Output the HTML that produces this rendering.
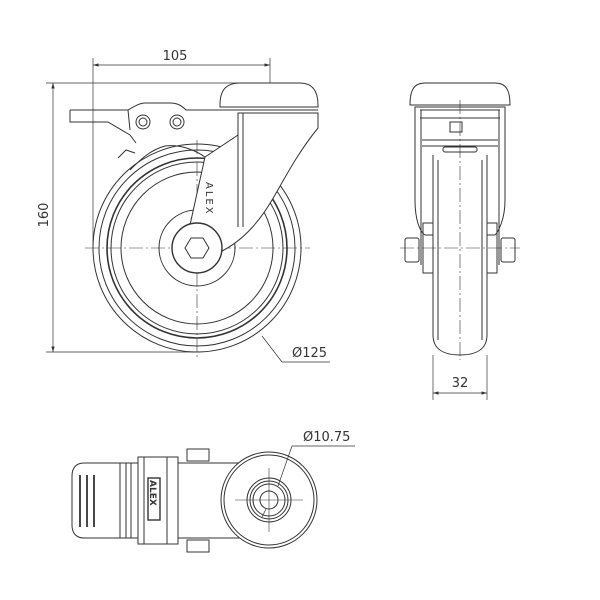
<!DOCTYPE html>
<html><head><style>body{margin:0;background:#fff}svg{display:block}text{font-family:"DejaVu Sans","Liberation Sans",sans-serif;font-size:13px;fill:#333;stroke:none}</style></head><body>
<svg width="600" height="600" viewBox="0 0 600 600" fill="none" stroke="#333" stroke-width="1">
<defs><marker id="a" viewBox="0 0 10 10" refX="10" refY="5" markerWidth="8" markerHeight="8" orient="auto-start-reverse"><path d="M0,2L10,5L0,8z" fill="#333" stroke="none"/></marker></defs>
<g stroke-width="0.7">
<line x1="93" y1="58" x2="93" y2="245"/><line x1="270" y1="58" x2="270" y2="100"/>
<line x1="93" y1="65" x2="270" y2="65" marker-start="url(#a)" marker-end="url(#a)"/>
<line x1="46" y1="83" x2="250" y2="83"/><line x1="46" y1="352" x2="200" y2="352"/>
<line x1="53" y1="83" x2="53" y2="352" marker-start="url(#a)" marker-end="url(#a)"/>
<polyline points="262,336 282,362 330,362"/>
</g>
<text x="175" y="60" text-anchor="middle">105</text>
<text x="0" y="0" transform="translate(48,215) rotate(-90)" text-anchor="middle">160</text>
<text x="292" y="357">Ø125</text>
<circle cx="197" cy="248" r="104"/><circle cx="197" cy="248" r="98"/>
<circle cx="197" cy="248" r="90" stroke-width="1.6"/><circle cx="197" cy="248" r="86"/><circle cx="197" cy="248" r="76"/>
<circle cx="197" cy="248" r="38" fill="#fff"/>
<g stroke-dasharray="14,3,2,3" stroke-width="0.6"><line x1="85" y1="248" x2="310" y2="248"/><line x1="197" y1="140" x2="197" y2="360"/></g>
<path d="M238,113 L318,113 L318,128 C300,150 288,172 275,195 C262,218 245,240 220,252 A25,25 0 0 0 190,225 L205,157 L238,135 Z" fill="#fff"/>
<path d="M238,113 L238,227 M243,113 L243,227"/>
<circle cx="197" cy="248" r="25" stroke-width="1.4" fill="#fff"/>
<polygon points="185,248 191,238 203,238 209,248 203,258 191,258" fill="#fff"/>
<path d="M205,157 C195,150 180,144 165,146 C150,150 140,160 130,170"/>
<path d="M220,105 C220,88 228,83 240,83 L300,83 C312,83 318,90 318,105 L318,107 L220,107 Z" fill="#fff"/>
<line x1="220" y1="110" x2="318" y2="110"/>
<path d="M70,110 L128,110 C135,106 140,103 145,103 L170,103 C178,103 182,106 186,110 L220,110 M70,110 L70,122 L108,122 L130,135 L136,143 M128,110 L130,130"/>
<circle cx="143" cy="122" r="7"/><circle cx="143" cy="122" r="4"/>
<circle cx="177" cy="122" r="7"/><circle cx="177" cy="122" r="4"/>
<path d="M118,158 L126,150 L135,153"/>
<text x="0" y="0" transform="translate(206,182) rotate(90)" style="font-size:10px;letter-spacing:2px">ALEX</text>
<path d="M410,105 C410,90 414,83 425,83 L495,83 C506,83 510,90 510,105 Z" fill="#fff"/>
<path d="M415,107 L505,107 L505,200 C505,220 498,232 495,235 L425,235 C420,232 415,220 415,200 Z"/>
<line x1="420" y1="110" x2="500" y2="110"/><line x1="420" y1="118" x2="500" y2="118"/>
<line x1="422" y1="140" x2="498" y2="140"/><line x1="422" y1="146" x2="498" y2="146"/>
<rect x="450" y="122" width="12" height="10"/><rect x="443" y="147" width="34" height="5" rx="2"/>
<line x1="421" y1="110" x2="421" y2="265"/><line x1="499" y1="110" x2="499" y2="265"/>
<path d="M433,155 L433,335 C433,350 445,355 460,355 C475,355 487,350 487,335 L487,155" fill="#fff"/>
<line x1="438" y1="160" x2="438" y2="340"/><line x1="482" y1="160" x2="482" y2="340"/>
<rect x="405" y="238" width="14" height="24" rx="2"/><rect x="501" y="238" width="14" height="24" rx="2"/>
<rect x="423" y="223" width="10" height="50"/><rect x="487" y="223" width="10" height="50"/>
<g stroke-dasharray="14,3,2,3" stroke-width="0.6"><line x1="460" y1="100" x2="460" y2="360"/><line x1="400" y1="248" x2="520" y2="248"/></g>
<g stroke-width="0.7"><line x1="433" y1="355" x2="433" y2="400"/><line x1="487" y1="355" x2="487" y2="400"/>
<line x1="433" y1="393" x2="487" y2="393" marker-start="url(#a)" marker-end="url(#a)"/></g>
<text x="460" y="387" text-anchor="middle">32</text>
<path d="M120,463 L84,463 C76,463 72,468 72,476 L72,525 C72,533 76,538 84,538 L120,538"/>
<g stroke-width="1.8"><line x1="80" y1="475" x2="80" y2="527"/><line x1="87" y1="475" x2="87" y2="527"/><line x1="94" y1="475" x2="94" y2="527"/></g>
<rect x="120" y="463" width="120" height="75"/>
<rect x="138" y="457" width="40" height="87" fill="#fff"/>
<line x1="126" y1="463" x2="126" y2="538"/><line x1="131" y1="463" x2="131" y2="538"/><line x1="144" y1="457" x2="144" y2="544"/><line x1="167" y1="457" x2="167" y2="544"/>
<rect x="148" y="478" width="12" height="42" stroke-width="1.4"/>
<text x="0" y="0" transform="translate(150,480) rotate(90)" style="font-size:9px;font-weight:bold">ALEX</text>
<rect x="187" y="449" width="22" height="12"/><rect x="187" y="540" width="22" height="12"/>
<circle cx="269" cy="500" r="48" fill="#fff"/><circle cx="269" cy="500" r="45"/>
<circle cx="269" cy="500" r="22"/><circle cx="269" cy="500" r="19"/><circle cx="269" cy="500" r="16"/><circle cx="269" cy="500" r="9"/>
<g stroke-width="0.6"><line x1="235" y1="500" x2="303" y2="500"/><line x1="269" y1="468" x2="269" y2="532"/></g>
<g stroke-width="0.7"><polyline points="278,486 292,446 355,446"/><line x1="266" y1="509" x2="262" y2="517"/></g>
<text x="303" y="441">Ø10.75</text>
</svg>
</body></html>
